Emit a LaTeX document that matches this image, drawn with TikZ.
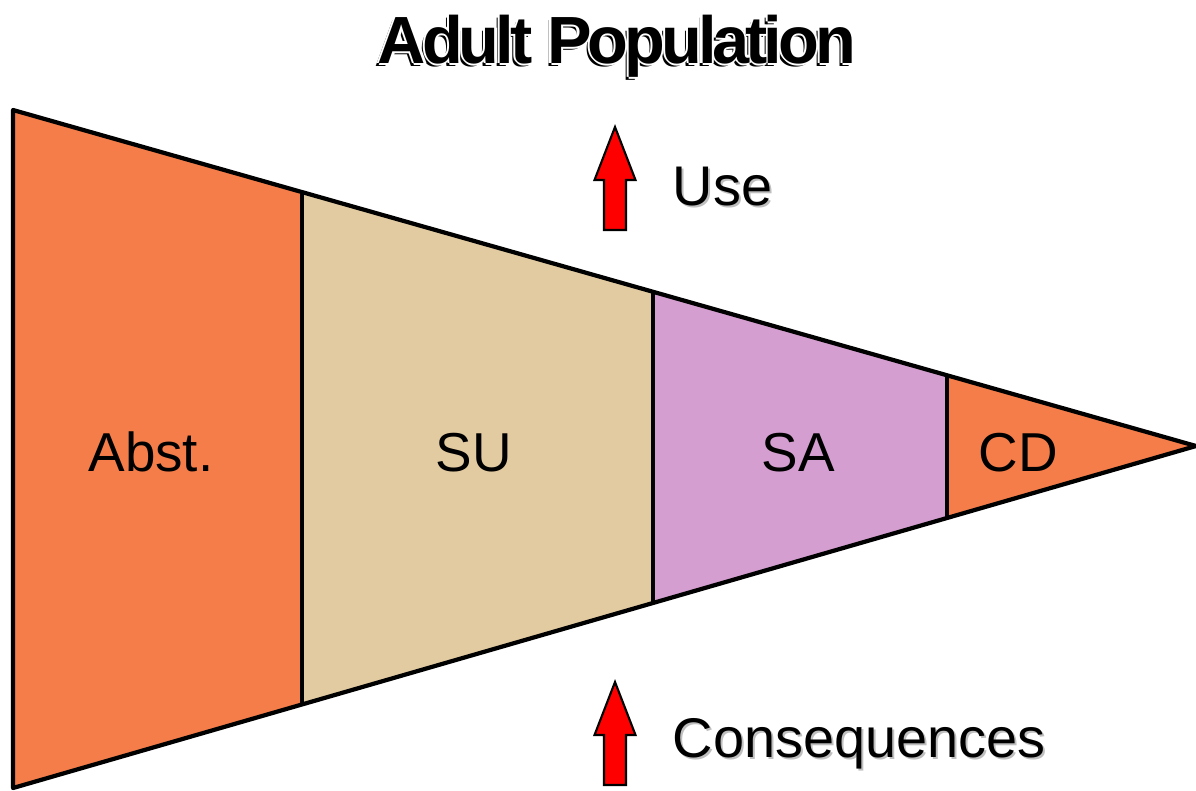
\documentclass[tikz,border=0pt]{standalone}
\usepackage{fontspec}
\setmainfont{Liberation Sans}
\newfontfamily\titlefont[LetterSpace=-6]{Liberation Sans}
\usepackage{xcolor}
\usepackage{tikz}

\definecolor{abstorange}{RGB}{244,125,74}
\definecolor{sutan}{RGB}{227,203,161}
\definecolor{salilac}{RGB}{213,158,208}

\tikzset{
	stage/.style={font=\fontsize{15.6}{18}\selectfont, anchor=base, inner sep=0pt},
	sidelabel/.style={font=\fontsize{15.9}{18}\selectfont, anchor=base west, inner sep=0pt},
	titletext/.style={font=\titlefont\bfseries\fontsize{19}{22}\selectfont, anchor=base, inner sep=0pt},
	redarrow/.style={fill=red, draw=black, line width=0.6pt, line join=miter}
}

\begin{document}
\begin{tikzpicture}

\useasboundingbox (0,0) rectangle (11.96,7.90);

\coordinate (tl) at (0.13,6.80);
\coordinate (bl) at (0.13,0.02);
\coordinate (tip) at (11.96,3.44);

\path (tl)--(tip) coordinate[pos=0.2443] (t1) coordinate[pos=0.541] (t2) coordinate[pos=0.7895] (t3);
\path (bl)--(tip) coordinate[pos=0.2443] (b1) coordinate[pos=0.541] (b2) coordinate[pos=0.7895] (b3);

\fill[abstorange] (tl)--(t1)--(b1)--(bl)--cycle;
\fill[sutan] (t1)--(t2)--(b2)--(b1)--cycle;
\fill[salilac] (t2)--(t3)--(b3)--(b2)--cycle;
\fill[abstorange] (t3)--(tip)--(b3)--cycle;

\foreach \i in {1,2,3}
	{
		\draw[line width=1.2pt] (t\i)--(b\i);
	}

\draw[line width=1.2pt, line join=round] (tl)--(tip)--(bl)--cycle;

\node[stage] (abst) at (1.51,3.19) {Abst.};
\node[stage] (su) at (4.74,3.19) {SU};
\node[stage] (sa) at (7.98,3.19) {SA};
\node[stage] (cd) at (10.18,3.19) {CD};

% the two red up arrows
\foreach \y in {5.60,0.05}
	{
		\draw[redarrow] (6.04,\y)--(6.26,\y)--(6.26,\y+0.50)--(6.355,\y+0.50)--(6.15,\y+1.03)--(5.945,\y+0.50)--(6.04,\y+0.50)--cycle;
	}

\node[sidelabel, text=black!25] at (6.74,5.83) {Use};
\node[sidelabel] (use) at (6.72,5.85) {Use};

\node[sidelabel, text=black!25] at (6.74,0.31) {Consequences};
\node[sidelabel] (cons) at (6.72,0.33) {Consequences};

% title with shadow and white rim
\node[titletext] at (6.14,7.24) {Adult Population};
\foreach \dx/\dy in {0.6/0,-0.6/0,0/0.6,0/-0.6}
	{
		\node[titletext, text=white, xshift=\dx pt, yshift=\dy pt] at (6.17,7.27) {Adult Population};
	}
\node[titletext] (title) at (6.17,7.27) {Adult Population};

\end{tikzpicture}
\end{document}
